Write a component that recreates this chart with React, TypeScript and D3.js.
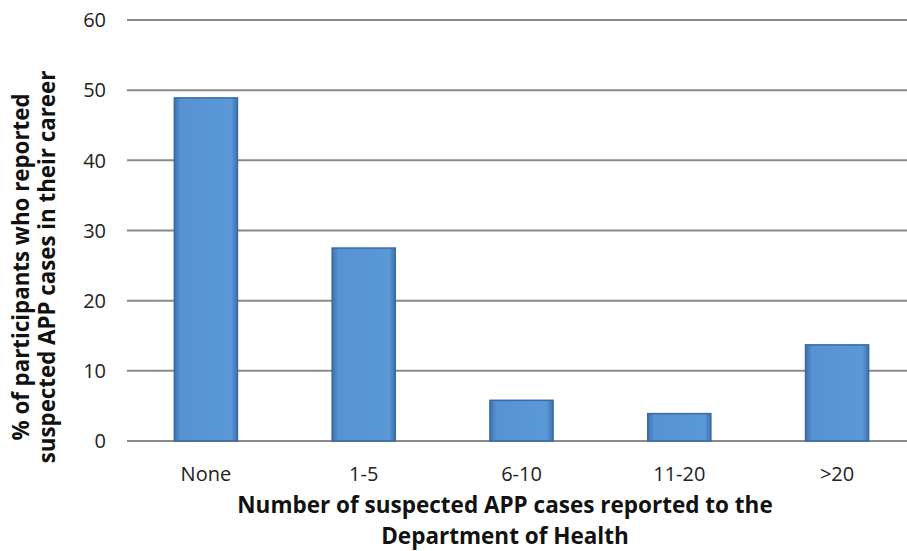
import React from "react";
import * as d3 from "d3";

const categories = ["None", "1-5", "6-10", "11-20", ">20"];
const values = [48.9, 27.5, 5.8, 3.9, 13.7];
const yTicks = [0, 10, 20, 30, 40, 50, 60];
const yLabelLines = ["% of participants who reported", "suspected APP cases in their  career"];
const xLabelLines = ["Number of suspected APP cases reported to the", "Department of Health"];

const W = 907;
const H = 551;
const FONT = "Open Sans, Lato, sans-serif";

export default function App() {
  const x = d3.scaleBand<string>().domain(categories).range([127, 916]).paddingInner(0.6).paddingOuter(0.3);
  const y = d3.scaleLinear().domain([0, 60]).range([441, 20]);
  return (
    <svg width={W} height={H} style={{ position: "absolute", left: 0, top: 0, background: "#fff" }} fontFamily={FONT}>
      <defs>
        <linearGradient id="barGrad" x1="0" x2="1" y1="0" y2="0">
          <stop offset="0" stopColor="#3f72ad" />
          <stop offset="0.1" stopColor="#5793d2" />
          <stop offset="0.9" stopColor="#5b98d8" />
          <stop offset="1" stopColor="#3f72ad" />
        </linearGradient>
      </defs>
      {yTicks.map((t) => (
        <g key={t}>
          <line x1={127} x2={W} y1={y(t)} y2={y(t)} stroke="#8a8a8a" strokeWidth={2} />
          <text x={106} y={y(t)} dy="0.36em" textAnchor="end" fontSize={20} fill="#222">{t}</text>
        </g>
      ))}
      {categories.map((c, i) => (
        <g key={c}>
          <rect x={x(c)} y={y(values[i])} width={x.bandwidth()} height={y(0) - y(values[i])} fill="url(#barGrad)" stroke="#3a6aa3" strokeWidth={1.5} />
          <text x={(x(c) as number) + x.bandwidth() / 2} y={474} dy="0.36em" textAnchor="middle" fontSize={20} fill="#222">{c}</text>
        </g>
      ))}
      {xLabelLines.map((l, i) => (
        <text key={l} x={505} y={505 + i * 31} dy="0.36em" textAnchor="middle" fontSize={22.5} fontWeight="bold" fill="#111">{l}</text>
      ))}
      <g transform="translate(34,267) rotate(-90)">
        {yLabelLines.map((l, i) => (
          <text key={l} x={0} y={(i - 0.5) * 26} dy="0.36em" textAnchor="middle" fontSize={22.3} fontWeight="bold" fill="#111">{l}</text>
        ))}
      </g>
    </svg>
  );
}
